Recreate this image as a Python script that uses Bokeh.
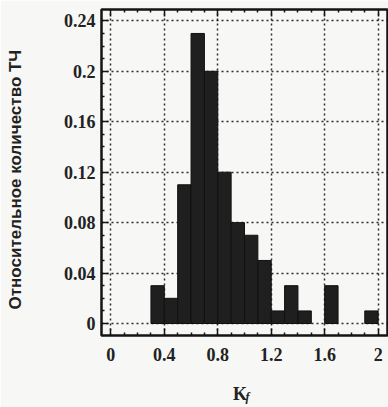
from bokeh.plotting import figure
from bokeh.models import Range1d, FixedTicker, LinearAxis
from bokeh.embed import file_html
from bokeh.resources import INLINE

# Histogram of relative counts, bin width 0.1
bin_left = [0.3, 0.4, 0.5, 0.6, 0.7, 0.8, 0.9, 1.0, 1.1, 1.2, 1.3, 1.4, 1.6, 1.9]
bin_right = [0.4, 0.5, 0.6, 0.7, 0.8, 0.9, 1.0, 1.1, 1.2, 1.3, 1.4, 1.5, 1.7, 2.0]
rel_count = [0.03, 0.02, 0.11, 0.23, 0.20, 0.12, 0.08, 0.07, 0.05, 0.01, 0.03, 0.01, 0.03, 0.01]

x_ticks = [0, 0.4, 0.8, 1.2, 1.6, 2]
x_tick_labels = ["0", "0.4", "0.8", "1.2", "1.6", "2"]
x_minor = [0.1, 0.2, 0.3, 0.5, 0.6, 0.7, 0.9, 1.0, 1.1, 1.3, 1.4, 1.5, 1.7, 1.8, 1.9]
y_ticks = [0, 0.04, 0.08, 0.12, 0.16, 0.2, 0.24]
y_tick_labels = ["0", "0.04", "0.08", "0.12", "0.16", "0.2", "0.24"]
y_minor = [0.01, 0.02, 0.03, 0.05, 0.06, 0.07, 0.09, 0.10, 0.11, 0.13, 0.14, 0.15,
           0.17, 0.18, 0.19, 0.21, 0.22, 0.23]

BG = "#f7f7f5"
INK = "#151515"
TEXT = "#222222"
SERIF = "Liberation Serif"
NB = "\u00a0"

p = figure(width=388, height=407, output_backend="svg", toolbar_location=None,
           x_range=Range1d(-0.07, 2.07), y_range=Range1d(-0.0095, 0.249),
           min_border_left=101, min_border_right=1, min_border_top=9, min_border_bottom=72,
           background_fill_color=BG, border_fill_color=BG)

p.outline_line_color = INK
p.outline_line_width = 2.5
p.outline_line_alpha = 1.0

p.quad(left=bin_left, right=bin_right, bottom=0, top=rel_count,
       fill_color="#1f1f1f", line_color="#111111", line_width=1)

for ax in (p.xaxis[0], p.yaxis[0]):
    ax.axis_line_color = None
    ax.major_tick_in = 7
    ax.major_tick_out = 0
    ax.minor_tick_in = 3
    ax.minor_tick_out = 0
    ax.major_tick_line_color = INK
    ax.minor_tick_line_color = INK
    ax.major_tick_line_width = 1.5
    ax.minor_tick_line_width = 1.5
    ax.major_label_text_font = SERIF
    ax.major_label_text_font_style = "bold"
    ax.major_label_text_font_size = "18px"
    ax.major_label_text_color = TEXT

p.xaxis[0].ticker = FixedTicker(ticks=x_ticks, minor_ticks=x_minor)
p.xaxis[0].major_label_overrides = dict(zip(x_ticks, x_tick_labels))
p.xaxis[0].major_label_standoff = 12
# title K; its subscript f sits on a bare axis stacked just below
p.xaxis[0].axis_label = "K" + NB + NB
p.xaxis[0].axis_label_text_font = SERIF
p.xaxis[0].axis_label_text_font_style = "bold"
p.xaxis[0].axis_label_text_font_size = "18px"
p.xaxis[0].axis_label_text_color = TEXT
p.xaxis[0].axis_label_standoff = 20

sub_axis = LinearAxis(ticker=FixedTicker(ticks=[]), axis_line_color=None,
                      major_tick_line_color=None, minor_tick_line_color=None,
                      axis_label=NB + NB + "f", axis_label_text_font=SERIF,
                      axis_label_text_font_style="bold italic",
                      axis_label_text_font_size="12px", axis_label_text_color=TEXT,
                      axis_label_standoff=-17)
p.add_layout(sub_axis, "below")

p.yaxis[0].ticker = FixedTicker(ticks=y_ticks, minor_ticks=y_minor)
p.yaxis[0].major_label_overrides = dict(zip(y_ticks, y_tick_labels))
p.yaxis[0].major_label_standoff = 6
p.yaxis[0].axis_label = "Относительное количество ТЧ" + NB * 3
p.yaxis[0].axis_label_text_font = "Liberation Sans"
p.yaxis[0].axis_label_text_font_style = "bold"
p.yaxis[0].axis_label_text_font_size = "17px"
p.yaxis[0].axis_label_text_color = TEXT
p.yaxis[0].axis_label_standoff = 36

# inward ticks along the top edge
top_axis = LinearAxis(ticker=FixedTicker(ticks=x_ticks, minor_ticks=x_minor),
                      major_label_overrides={t: "" for t in x_ticks},
                      major_label_standoff=0,
                      axis_line_color=None, major_tick_in=7, major_tick_out=0,
                      minor_tick_in=3, minor_tick_out=0,
                      major_tick_line_color=INK, minor_tick_line_color=INK,
                      major_tick_line_width=1.5, minor_tick_line_width=1.5)
p.add_layout(top_axis, "above")

for g in (p.xgrid[0], p.ygrid[0]):
    g.grid_line_color = INK
    g.grid_line_dash = "2 3"
    g.grid_line_width = 1.5
    g.grid_line_alpha = 0.9
p.xgrid[0].ticker = FixedTicker(ticks=x_ticks)
p.ygrid[0].ticker = FixedTicker(ticks=y_ticks)

open("out.html", "w").write(file_html(p, INLINE))
